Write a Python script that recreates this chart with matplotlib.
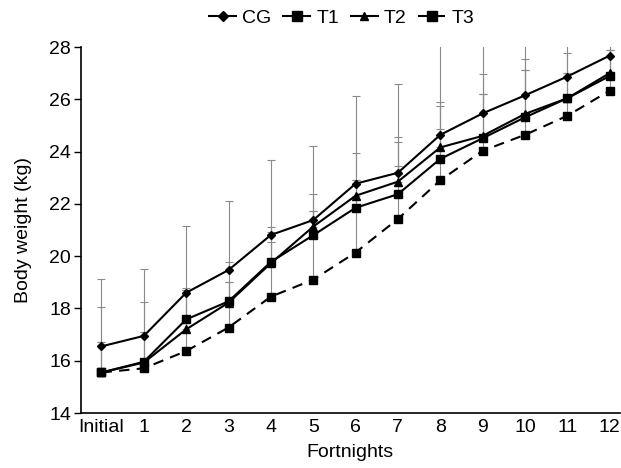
import numpy as np
import matplotlib
matplotlib.use("Agg")
import matplotlib.pyplot as plt

plt.rcParams['font.family'] = ['Liberation Sans', 'DejaVu Sans']

# x categories
labels = ['Initial', '1', '2', '3', '4', '5', '6', '7', '8', '9', '10', '11', '12']

# mean body weight (kg)
cg = [16.55, 16.95, 18.6, 19.47, 20.81, 21.38, 22.77, 23.19, 24.64, 25.46, 26.15, 26.87, 27.67]
t1 = [15.55, 15.96, 17.58, 18.27, 19.78, 20.8, 21.85, 22.37, 23.72, 24.51, 25.31, 26.04, 26.89]
t2 = [15.55, 15.93, 17.2, 18.22, 19.73, 21.13, 22.31, 22.85, 24.16, 24.6, 25.44, 26.04, 27.0]
t3 = [15.55, 15.71, 16.37, 17.27, 18.45, 19.1, 20.14, 21.42, 22.9, 24.03, 24.64, 25.37, 26.33]

# upper end of error bars (kg)
cg_top = [19.11, 19.5, 21.17, 22.12, 23.68, 24.23, 26.13, 26.59, 28.6, 28.5, 28.3, 28.4, 28.3]
t1_top = [18.07, 18.26, 18.77, 19.79, 21.13, 22.37, 22.91, 24.36, 25.74, 26.96, 27.53, 27.76, 27.9]
t2_top = [16.73, 17.11, 18.7, 19.02, 20.94, 21.74, 23.93, 24.57, 25.91, 26.19, 27.12, 27.02, 28.2]
t3_top = [16.73, 17.11, 18.7, 19.02, 20.53, 21.74, 22.91, 23.45, 24.85, 26.19, 27.12, 27.02, 27.9]

x = np.arange(len(labels))

fig = plt.figure(figsize=(6.21, 4.68), dpi=100)
ax = fig.add_axes([0.130, 0.1175, 0.868, 0.782])

series = [
    ('CG', cg, cg_top, 'D', 4.5, '-'),
    ('T1', t1, t1_top, 's', 6.0, '-'),
    ('T2', t2, t2_top, '^', 5.5, '-'),
    ('T3', t3, t3_top, 's', 6.0, (0, (5, 3.5))),
]

for name, y, top, mk, ms, ls in series:
    y = np.array(y)
    err = np.array(top) - y
    ax.errorbar(x, y, yerr=[np.zeros_like(err), err], fmt='none', ecolor='#8a8a8a',
                elinewidth=0.8, capsize=3, capthick=0.8, zorder=1)

handles = []
for name, y, top, mk, ms, ls in series:
    h, = ax.plot(x, y, color='black', linestyle=ls, linewidth=1.5, marker=mk,
                 markersize=ms, markerfacecolor='black', markeredgecolor='black',
                 zorder=3, label=name)
    handles.append(h)

ax.set_xlim(-0.49, 12.24)
ax.set_ylim(14, 28)
ax.set_yticks(np.arange(14, 29, 2))
ax.set_xticks(x)
ax.set_xticklabels(labels)
ax.tick_params(axis='x', length=0, labelsize=14, pad=4)
ax.tick_params(axis='y', length=5, width=1, labelsize=14, pad=2)
for s in ['top', 'right']:
    ax.spines[s].set_visible(False)
for s in ['left', 'bottom']:
    ax.spines[s].set_linewidth(1.2)

ax.set_xlabel('Fortnights', fontsize=14, labelpad=6)
ax.set_ylabel('Body weight (kg)', fontsize=14, labelpad=12)

leg = fig.legend(handles=handles, labels=[h.get_label() for h in handles], loc='center',
                 bbox_to_anchor=(0.55, 0.962), ncol=4, frameon=False, fontsize=14,
                 handlelength=1.4, handletextpad=0.3, columnspacing=0.6, markerscale=1.15)

fig.savefig('out.png', dpi=100)
